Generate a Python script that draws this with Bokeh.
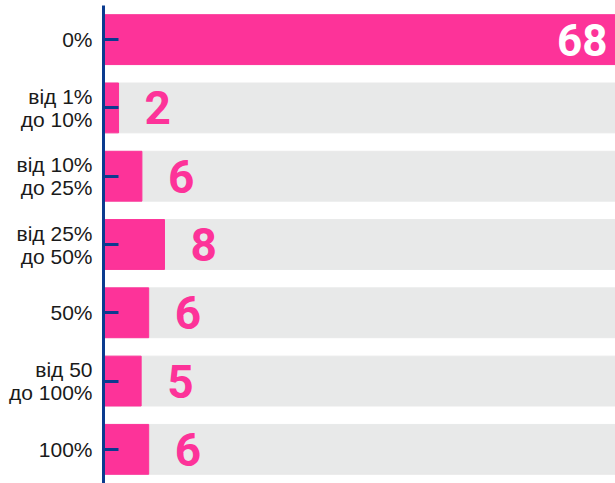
from bokeh.plotting import figure
from bokeh.models import Range1d, FactorRange, ColumnDataSource
from bokeh.core.properties import value
from bokeh.embed import file_html
from bokeh.resources import INLINE

categories = ["0%", "від 1%\nдо 10%", "від 10%\nдо 25%", "від 25%\nдо 50%",
              "50%", "від 50\nдо 100%", "100%"]
values = [68, 2, 5.1, 8.1, 6, 5, 6]
labels = ["68", "2", "6", "8", "6", "5", "6"]
max_value = 68

PINK = "#fd3399"
GREY = "#e8e9e9"
BLUE = "#0b3b8f"
NUM_FONT = "Roboto"

p = figure(width=615, height=483, output_backend="svg", toolbar_location=None,
           y_range=FactorRange(factors=categories[::-1], range_padding=0),
           x_range=Range1d(0, max_value),
           min_border_left=103, min_border_right=0, min_border_top=5, min_border_bottom=0)
p.outline_line_color = None
p.xaxis.visible = False
p.xgrid.visible = False
p.ygrid.visible = False
p.background_fill_color = "white"
p.border_fill_color = "white"

src = ColumnDataSource(dict(cat=categories, val=values, full=[max_value] * len(categories),
                            lab=labels))
p.hbar(y="cat", right="full", left=0, height=0.73, source=src, color=GREY)
p.hbar(y="cat", right="val", left=0, height=0.73, source=src, color=PINK)

inner = ColumnDataSource(dict(cat=categories[1:], val=values[1:], lab=labels[1:]))
p.text(x="val", y="cat", text="lab", source=inner, x_offset=26,
       text_align="left", text_baseline="middle", text_color=PINK,
       text_font=value(NUM_FONT), text_font_style="bold",
       text_font_size="46px")
top = ColumnDataSource(dict(cat=categories[:1], val=values[:1], lab=labels[:1]))
p.text(x="val", y="cat", text="lab", source=top, x_offset=-8,
       text_align="right", text_baseline="middle", text_color="white",
       text_font=value(NUM_FONT), text_font_style="bold",
       text_font_size="44px")

ax = p.yaxis[0]
ax.axis_line_color = BLUE
ax.axis_line_width = 3
ax.major_tick_line_color = BLUE
ax.major_tick_line_width = 3
ax.major_tick_in = 15
ax.major_tick_out = 0
ax.minor_tick_line_color = None
ax.major_label_text_font = "Liberation Sans"
ax.major_label_text_font_size = "21px"
ax.major_label_text_color = "#1a1a1a"
ax.major_label_text_line_height = 1.0
ax.major_label_standoff = 11

open("out.html", "w").write(file_html(p, INLINE))
